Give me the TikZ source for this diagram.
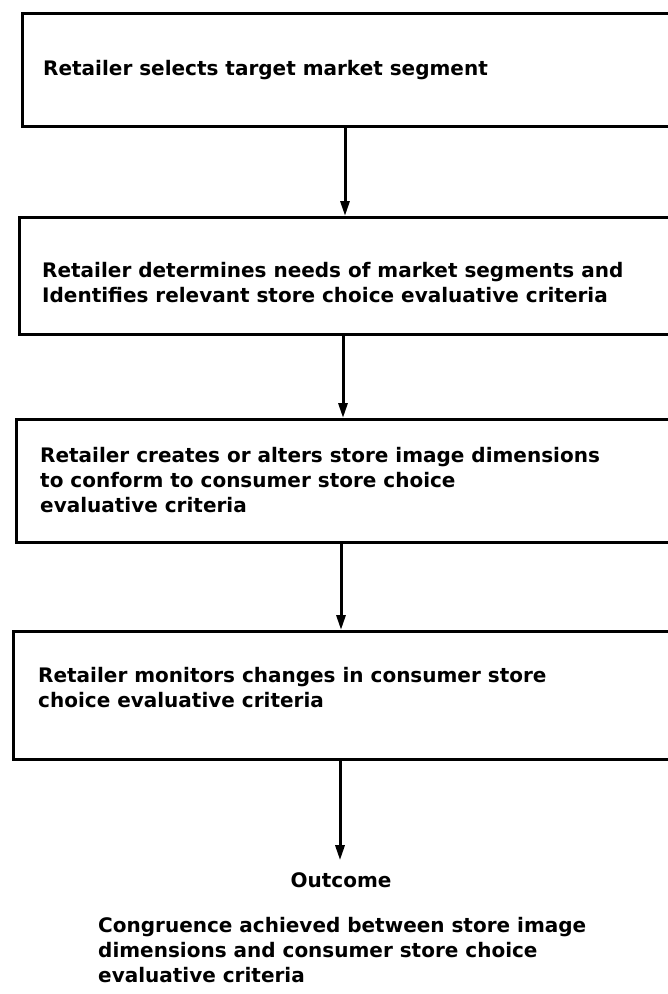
\documentclass[tikz,border=0pt]{standalone}
\usepackage{fontspec}
\setmainfont{DejaVu Sans}
\usetikzlibrary{arrows.meta,calc}
\begin{document}
\begin{tikzpicture}[x=1pt,y=-1pt,
  stagebox/.style={draw, line width=3pt, rectangle, anchor=north west,
    minimum width=700pt, inner sep=0pt},
  label/.style={font=\fontsize{20}{25}\selectfont\bfseries, align=left,
    inner sep=0pt},
  flow/.style={line width=3pt, -{Triangle[length=15pt,width=9pt]}}]
\useasboundingbox (0,0) rectangle (668,994);
\clip (0,0) rectangle (668,994);
\fill[white] (0,0) rectangle (668,994);

% the four stages (frames run past the right edge)
\node[stagebox, minimum height=113pt] (b1) at (21,12) {};
\node[stagebox, minimum height=117pt] (b2) at (18,216) {};
\node[stagebox, minimum height=123pt] (b3) at (15,418) {};
\node[stagebox, minimum height=128pt] (b4) at (12,630) {};

\node[label, anchor=west] (t1) at (43,70)
  {Retailer selects target market segment};
\node[label, anchor=west] (t2) at (42,283)
  {Retailer determines needs of market segments and\\
   Identifies relevant store choice evaluative criteria};
\node[label, anchor=west] (t3) at (40,480)
  {Retailer creates or alters store image dimensions\\
   to conform to consumer store choice\\
   evaluative criteria};
\node[label, anchor=west] (t4) at (38,688)
  {Retailer monitors changes in consumer store\\
   choice evaluative criteria};

% outcome
\node[label] (out) at (341,880) {Outcome};
\node[label, anchor=west] (res) at (98,950)
  {Congruence achieved between store image\\
   dimensions and consumer store choice\\
   evaluative criteria};

% connectors
\coordinate (c1) at (345,0);
\coordinate (c2) at (343,0);
\coordinate (c3) at (341,0);
\coordinate (c4) at (340,0);
\draw[flow] (b1.south -| c1) -- (b2.north -| c1);
\draw[flow] (b2.south -| c2) -- (b3.north -| c2);
\draw[flow] (b3.south -| c3) -- (b4.north -| c3);
\draw[flow] (b4.south -| c4) -- ($(out.north -| c4)+(0,-12)$);
\end{tikzpicture}
\end{document}
